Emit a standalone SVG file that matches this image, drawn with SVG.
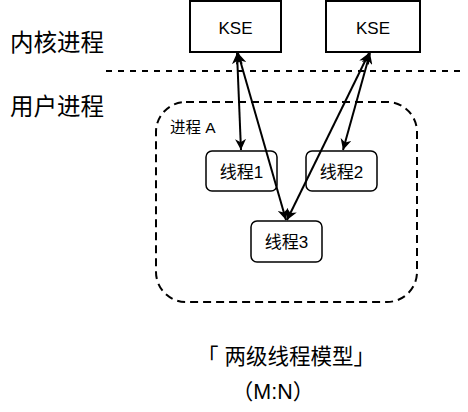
<svg xmlns="http://www.w3.org/2000/svg" width="468" height="412" viewBox="0 0 468 412">
  <style>
    text { font-family: "Liberation Sans", "Noto Sans CJK SC", sans-serif; fill: #000; }
    .kse { fill: #fff; stroke: #000; stroke-width: 2; }
    .thread { fill: #fff; stroke: #000; stroke-width: 1.5; }
    .proc { fill: none; stroke: #000; stroke-width: 2; stroke-dasharray: 8 5; }
    .divider { stroke: #000; stroke-width: 2; stroke-dasharray: 6 6; }
    .link { fill: none; stroke: #000; stroke-width: 2; marker-start: url(#head); marker-end: url(#head); }
    .big { font-size: 23.5px; }
    .mid { font-size: 17px; }
    .title { font-size: 21.5px; }
  </style>
  <defs>
    <marker id="head" viewBox="0 0 10 10" refX="10" refY="5" markerWidth="11" markerHeight="11" markerUnits="userSpaceOnUse" orient="auto-start-reverse">
      <path d="M0,0 L10,5 L0,10 L3,5 Z" fill="#000"/>
    </marker>
  </defs>

  <rect width="468" height="412" fill="#fff"/>

  <!-- side labels -->
  <text class="big" x="10" y="51">内核进程</text>
  <text class="big" x="10" y="115">用户进程</text>

  <!-- kernel / user divider -->
  <line class="divider" x1="106" y1="71" x2="462" y2="71"/>

  <!-- process A container -->
  <g id="process-a">
    <rect class="proc" x="156" y="102" width="261" height="200" rx="30" ry="30"/>
    <text x="170" y="133" font-size="15.5">进程 A</text>
  </g>

  <g id="kse-1">
    <rect class="kse" x="190" y="1" width="91" height="51"/>
    <text class="mid" x="235.5" y="34" text-anchor="middle">KSE</text>
  </g>
  <g id="kse-2">
    <rect class="kse" x="326" y="1" width="94" height="51"/>
    <text class="mid" x="373" y="34" text-anchor="middle">KSE</text>
  </g>

  <g id="thread-1">
    <rect class="thread" x="206" y="151" width="71" height="40" rx="6" ry="6"/>
    <text class="mid" x="241.5" y="178" text-anchor="middle">线程1</text>
  </g>
  <g id="thread-2">
    <rect class="thread" x="306" y="151" width="71" height="40" rx="6" ry="6"/>
    <text class="mid" x="341.5" y="178" text-anchor="middle">线程2</text>
  </g>
  <g id="thread-3">
    <rect class="thread" x="251" y="221" width="71" height="41" rx="6" ry="6"/>
    <text class="mid" x="286.5" y="248" text-anchor="middle">线程3</text>
  </g>

  <!-- bidirectional KSE ↔ thread mappings -->
  <g id="connectors">
    <line class="link" x1="237" y1="53" x2="241" y2="150"/>
    <line class="link" x1="238" y1="53" x2="286" y2="220"/>
    <line class="link" x1="370" y1="53" x2="343" y2="150"/>
    <line class="link" x1="369" y1="53" x2="287" y2="220"/>
  </g>

  <!-- caption -->
  <text class="title" x="286" y="364" text-anchor="middle">「 两级线程模型」</text>
  <text class="title" x="273" y="399" text-anchor="middle">（M:N）</text>
</svg>
